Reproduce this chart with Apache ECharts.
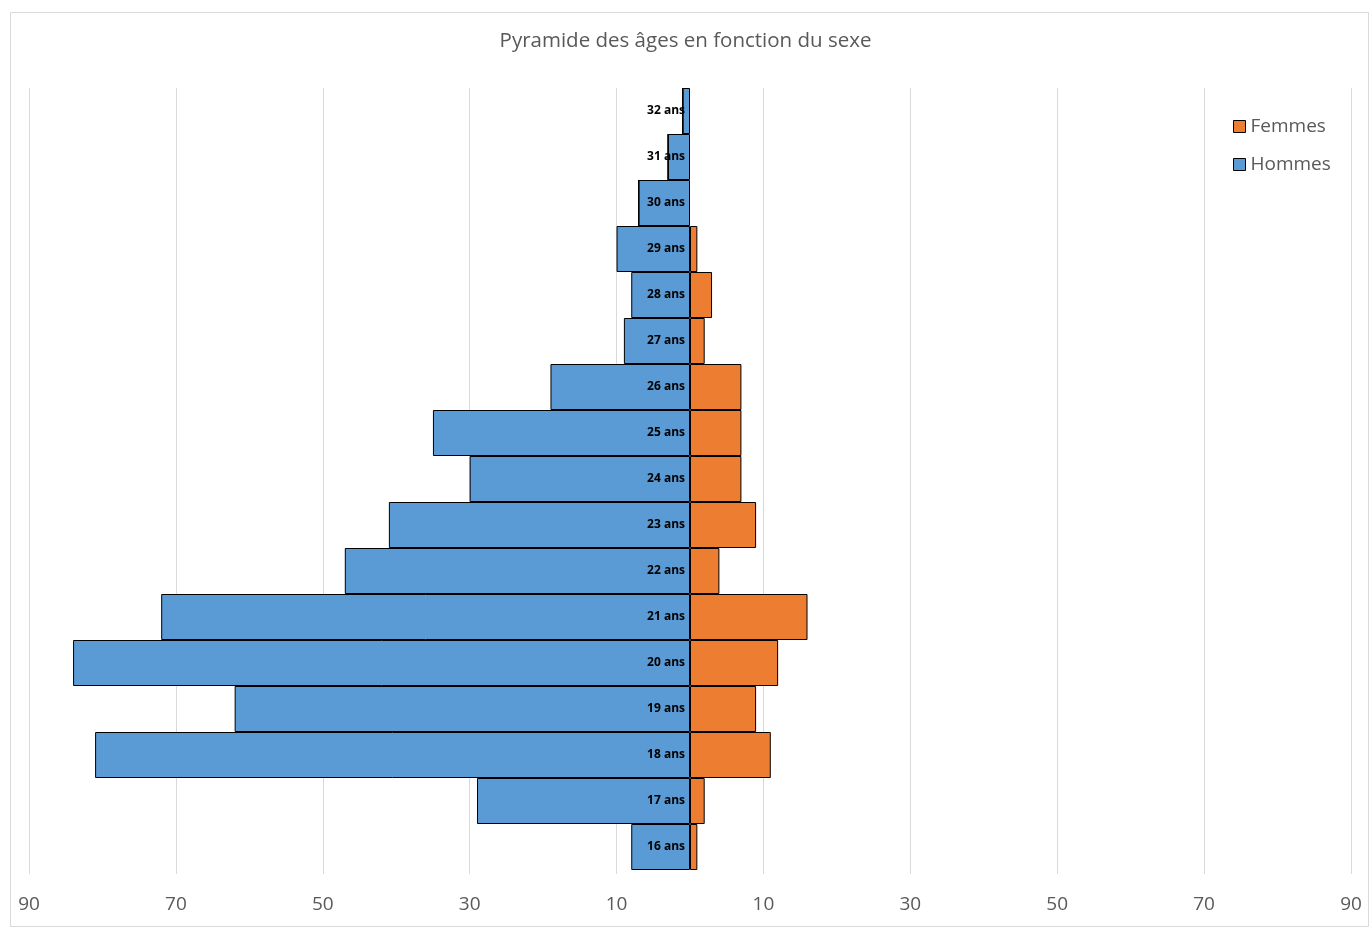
<!DOCTYPE html>
<html><head><meta charset="utf-8">
<script src="https://cdn.jsdelivr.net/npm/echarts@6/dist/echarts.min.js"></script>
<style>html,body{margin:0;padding:0;background:#fff}#c{width:1371px;height:927px}</style>
</head><body><div id="c"></div>
<script>
const categories = ['16 ans','17 ans','18 ans','19 ans','20 ans','21 ans','22 ans','23 ans','24 ans','25 ans','26 ans','27 ans','28 ans','29 ans','30 ans','31 ans','32 ans'];
const hommes = [8, 29, 81, 62, 84, 72, 47, 41, 30, 35, 19, 9, 8, 10, 7, 3, 1];
const femmes = [1, 2, 11, 9, 12, 16, 4, 9, 7, 7, 7, 2, 3, 1, 0, 0, 0];
const FONT = "'Open Sans',sans-serif";
const GRID_LEFT = 29;
const chart = echarts.init(document.getElementById('c'));
chart.setOption({
  animation: false,
  textStyle: { fontFamily: FONT },
  graphic: [{ type: 'rect', left: 8, top: 10, shape: { width: 1358, height: 914 }, style: { fill: 'none', stroke: '#d9d9d9', lineWidth: 1 }, silent: true, z: -10 }],
  title: { text: 'Pyramide des âges en fonction du sexe', left: 'center', top: 26,
    textStyle: { fontFamily: FONT, fontSize: 20.5, fontWeight: 'normal', color: '#595959' } },
  legend: { data: ['Femmes', 'Hommes'], orient: 'vertical', left: 1228, top: 112, itemGap: 19,
    icon: 'rect', itemWidth: 12, itemHeight: 12,
    itemStyle: { borderColor: '#000', borderWidth: 1 },
    textStyle: { fontFamily: FONT, fontSize: 19, color: '#595959' } },
  grid: { left: GRID_LEFT, right: 20, top: 88, bottom: 57, containLabel: false, outerBoundsMode: 'none' },
  xAxis: { type: 'value', min: -90, max: 90, interval: 20,
    axisLine: { show: false },
    axisTick: { show: true, length: 4, lineStyle: { color: '#d9d9d9' } },
    splitLine: { show: true, lineStyle: { color: '#d9d9d9', width: 1 } },
    axisLabel: { margin: 25, fontSize: 19, color: '#595959', fontFamily: FONT,
      formatter: v => String(Math.abs(v)) } },
  yAxis: { type: 'category', data: categories, position: 'left', z: 10,
    axisLine: { show: false },
    axisTick: { show: false },
    axisLabel: { margin: 5, fontSize: 12, fontWeight: 'bold', color: '#000', fontFamily: FONT } },
  series: [
    { name: 'Hommes', type: 'bar', stack: 'p', barCategoryGap: '0%',
      data: hommes.map(v => -v),
      itemStyle: { color: '#5B9BD5', borderColor: '#000', borderWidth: 1 } },
    { name: 'Femmes', type: 'bar', stack: 'p', barCategoryGap: '0%',
      data: femmes,
      itemStyle: { color: '#ED7D31', borderColor: '#000', borderWidth: 1 } }
  ]
});
// place the category axis at the x=0 position given by the value scale
const x0 = chart.convertToPixel({ xAxisIndex: 0 }, 0);
chart.setOption({ yAxis: { offset: -(x0 - GRID_LEFT) } });
</script></body></html>
